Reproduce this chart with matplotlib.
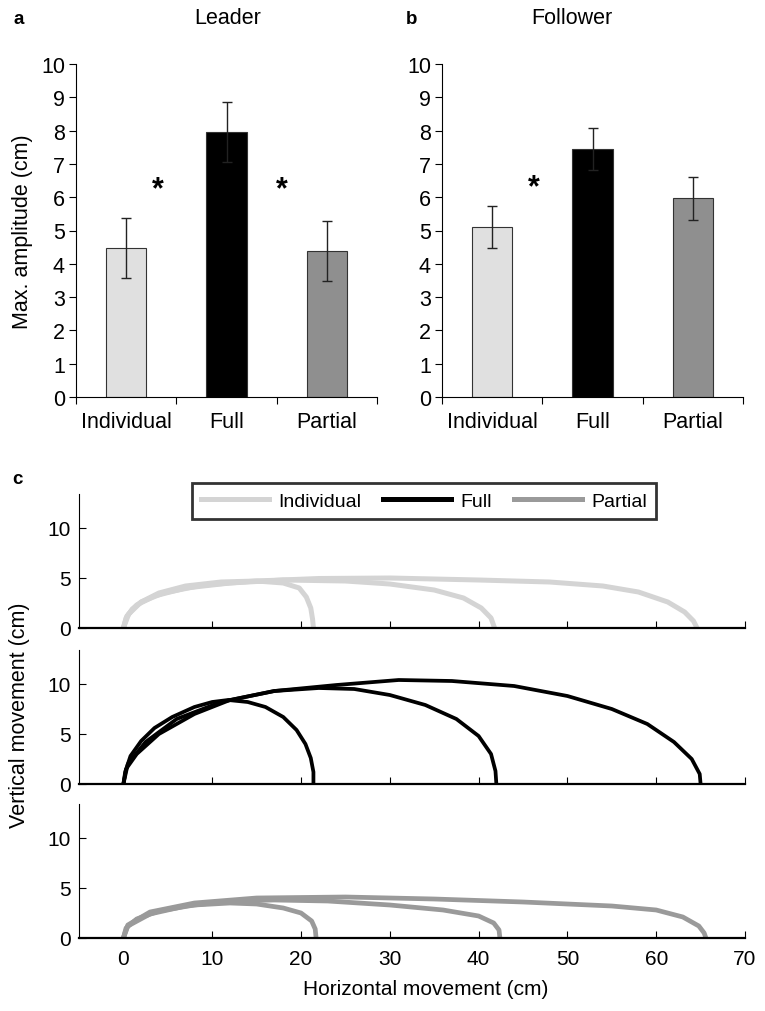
import numpy as np
import matplotlib.pyplot as plt
from matplotlib.lines import Line2D

# --- bar chart data (panels a, b)
conditions = ["Individual", "Full", "Partial"]
leader_mean = [4.47, 7.95, 4.38]
leader_err = [0.91, 0.90, 0.91]
follower_mean = [5.10, 7.45, 5.97]
follower_err = [0.64, 0.63, 0.65]
bar_colors = ["#e0e0e0", "#000000", "#8f8f8f"]

# --- trajectory data (panel c), (x, y) in cm
ind_x1 = [0, 0.3, 1, 2, 4, 7, 11, 15, 18, 19.8, 20.6, 21.1, 21.3, 21.4]
ind_y1 = [0, 1.0, 1.9, 2.6, 3.5, 4.2, 4.6, 4.7, 4.5, 4.0, 3.1, 2.0, 0.9, 0]
ind_x2 = [0, 0.4, 1.5, 3.5, 7, 12, 18, 25, 30, 35, 38.3, 40.3, 41.4, 41.8]
ind_y2 = [0, 1.2, 2.3, 3.2, 4.0, 4.5, 4.8, 4.7, 4.4, 3.8, 3.0, 2.0, 1.0, 0]
ind_x3 = [0, 0.6, 2, 4.5, 9, 15, 22, 30, 40, 48, 54, 58, 61.3, 63.2, 64.2, 64.6]
ind_y3 = [0, 1.4, 2.6, 3.5, 4.3, 4.7, 4.95, 5.0, 4.8, 4.6, 4.2, 3.6, 2.6, 1.6, 0.7, 0]

full_x1 = [0, 0.2, 0.8, 2, 3.5, 5.5, 8, 10, 11.8, 14, 16, 18, 19.5, 20.5, 21.1, 21.4, 21.4]
full_y1 = [0, 1.2, 2.8, 4.3, 5.6, 6.7, 7.7, 8.2, 8.4, 8.2, 7.7, 6.7, 5.4, 4.0, 2.6, 1.2, 0]
full_x2 = [0, 0.3, 1.5, 4, 8, 12, 17, 22, 26, 30, 34, 37.5, 40, 41.4, 41.9, 42]
full_y2 = [0, 1.5, 3.0, 5.0, 7.0, 8.4, 9.3, 9.6, 9.5, 8.9, 7.9, 6.5, 4.8, 3.0, 1.3, 0]
full_x3 = [0, 0.5, 2.5, 6, 11, 17, 24, 31, 37, 44, 50, 55, 59, 62, 64, 64.9, 65]
full_y3 = [0, 2.0, 4.2, 6.5, 8.2, 9.3, 9.9, 10.4, 10.3, 9.8, 8.8, 7.5, 6.0, 4.2, 2.5, 1.0, 0]

part_x1 = [0, 0.3, 1.5, 4, 8, 12, 15, 18, 20, 21.2, 21.6, 21.7]
part_y1 = [0, 1.0, 1.9, 2.7, 3.3, 3.5, 3.4, 3.0, 2.5, 1.7, 0.9, 0]
part_x2 = [0, 0.5, 3, 7, 12, 17, 23, 30, 36, 40, 41.7, 42.3, 42.4]
part_y2 = [0, 1.2, 2.4, 3.2, 3.7, 3.8, 3.7, 3.3, 2.8, 2.2, 1.5, 0.8, 0]
part_x3 = [0, 0.5, 3, 8, 15, 25, 35, 45, 55, 60, 63, 64.8, 65.4, 65.6]
part_y3 = [0, 1.3, 2.6, 3.5, 4.0, 4.1, 3.9, 3.6, 3.2, 2.8, 2.1, 1.2, 0.5, 0]

line_colors = ["#d4d4d4", "#000000", "#9a9a9a"]
traj = [
    [(ind_x1, ind_y1), (ind_x2, ind_y2), (ind_x3, ind_y3)],
    [(full_x1, full_y1), (full_x2, full_y2), (full_x3, full_y3)],
    [(part_x1, part_y1), (part_x2, part_y2), (part_x3, part_y3)],
]
line_widths = [3.6, 2.7, 3.4]
x_ticks_c = [0, 10, 20, 30, 40, 50, 60, 70]

plt.rcParams["font.family"] = ["Liberation Sans", "DejaVu Sans"]

W, H = 765, 1012
fig = plt.figure(figsize=(W / 100, H / 100), dpi=100)


def box(l, t, r, b):
    return [l / W, 1 - b / H, (r - l) / W, (b - t) / H]


def bar_panel(rect, means, errs, stars):
    ax = fig.add_axes(rect)
    x = np.arange(len(conditions))
    ax.bar(x, means, width=0.4, color=bar_colors, edgecolor="#333333", linewidth=0.8)
    ax.errorbar(x, means, yerr=errs, fmt="none", ecolor="#222222", elinewidth=1,
                capsize=3.6, capthick=1)
    ax.set_xlim(-0.5, 2.5)
    ax.set_ylim(0, 10)
    ax.set_yticks(range(0, 11))
    ax.tick_params(axis="y", direction="out", length=5, labelsize=15.5, pad=3)
    ax.set_xticks([-0.5, 0.5, 1.5, 2.5])
    ax.set_xticklabels([])
    ax.tick_params(axis="x", which="major", direction="out", length=5)
    ax.set_xticks(x, minor=True)
    ax.set_xticklabels(conditions, minor=True, fontsize=15.5)
    ax.tick_params(axis="x", which="minor", length=0, pad=10)
    for s in ["top", "right"]:
        ax.spines[s].set_visible(False)
    for sx, sy in stars:
        ax.text(sx, sy, "*", fontsize=22, fontweight="bold", ha="center", va="center")
    return ax


ax_a = bar_panel(box(76, 65, 377, 398), leader_mean, leader_err, [(0.32, 6.25), (1.55, 6.25)])
ax_a.set_ylabel("Max. amplitude (cm)", fontsize=15.5, labelpad=6)
ax_b = bar_panel(box(442, 65, 743, 398), follower_mean, follower_err, [(0.42, 6.3)])

fig.text(228 / W, 1 - 19 / H, "Leader", fontsize=15.5, ha="center", va="center")
fig.text(572 / W, 1 - 19 / H, "Follower", fontsize=15.5, ha="center", va="center")
fig.text(19 / W, 1 - 19 / H, "a", fontsize=13.5, fontweight="bold", ha="center", va="center")
fig.text(412 / W, 1 - 19 / H, "b", fontsize=13.5, fontweight="bold", ha="center", va="center")
fig.text(17 / W, 1 - 480 / H, "c", fontsize=13.5, fontweight="bold", ha="center", va="center")

# --- trajectory panels
bottoms = [629, 785, 939]
c_axes = []
for curves, col, lw, b in zip(traj, line_colors, line_widths, bottoms):
    ax = fig.add_axes(box(79, b - 134, 745, b))
    for cx, cy in curves:
        ax.plot(cx, cy, color=col, lw=lw, solid_capstyle="butt", clip_on=False)
    ax.set_xlim(-5, 70)
    ax.set_ylim(0, 13.4)
    ax.set_yticks([0, 5, 10])
    ax.set_xticks(x_ticks_c)
    ax.tick_params(axis="y", direction="in", length=5, labelsize=15, pad=6)
    ax.tick_params(axis="x", direction="in", length=5, labelsize=15, pad=8)
    ax.spines["bottom"].set_linewidth(1.6)
    for s in ["top", "right"]:
        ax.spines[s].set_visible(False)
    c_axes.append(ax)

for ax in c_axes[:2]:
    ax.set_xticklabels([])

fig.text(426 / W, 1 - 990 / H, "Horizontal movement (cm)", fontsize=15,
         ha="center", va="center")
fig.text(20 / W, 1 - 715 / H, "Vertical movement (cm)", fontsize=15.5,
         rotation=90, ha="center", va="center")

handles = [Line2D([], [], color=c, lw=3.6) for c in line_colors]
leg = fig.legend(handles, conditions, ncol=3, loc="center",
                 bbox_to_anchor=(424 / W, 1 - 502 / H), frameon=True, fancybox=False,
                 handlelength=3.5, columnspacing=1.1, handletextpad=0.5,
                 fontsize=14, borderpad=0.45, borderaxespad=0)
leg.get_frame().set_edgecolor("black")
leg.get_frame().set_linewidth(2)

fig.savefig("out.png", dpi=100)
